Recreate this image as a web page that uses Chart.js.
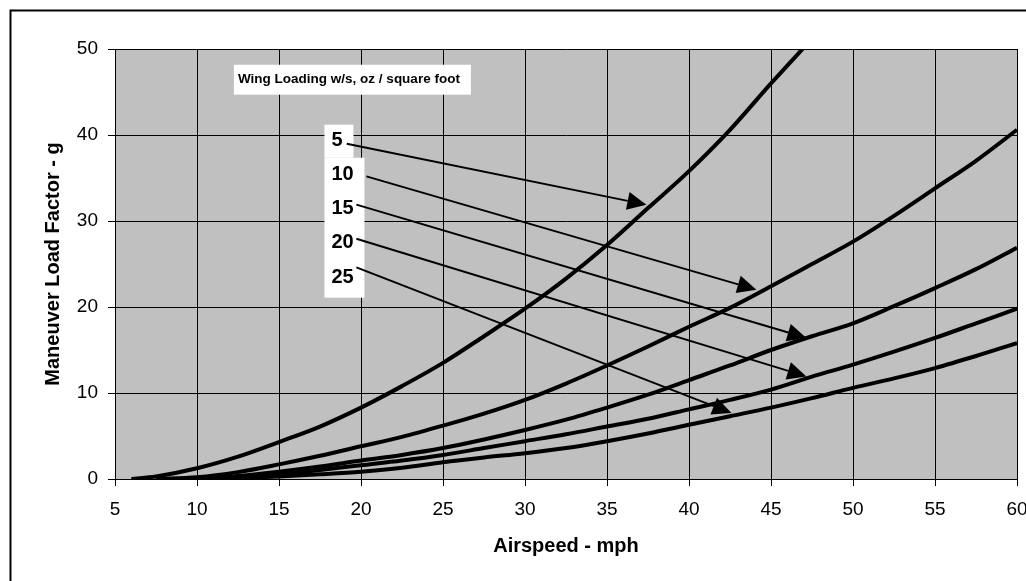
<!DOCTYPE html>
<html>
<head>
<meta charset="utf-8">
<title>Maneuver Load Factor</title>
<script src="https://cdn.jsdelivr.net/npm/chart.js@4.4.1/dist/chart.umd.min.js"></script>
<style>
  html, body { margin: 0; padding: 0; background: #fff; }
</style>
</head>
<body>
<canvas id="myCanvas" width="1026" height="581"></canvas>
<script>
// Airspeed (mph) sample points shared by every curve
var airspeed = [6, 7.5, 10, 12.5, 15, 17.5, 20, 22.5, 25, 27.5, 30, 32.5, 35, 37.5, 40, 42.5, 45, 47.5, 50, 52.5, 55, 57.5, 60];

// Maneuver load factor (g) for each wing loading
var ws5  = [0, 0.3, 1.25, 2.6, 4.3, 6.1, 8.3, 10.8, 13.5, 16.6, 19.8, 23.3, 27.2, 31.5, 35.8, 40.6, 46.0, 51.2, null, null, null, null, null];
var ws10 = [null, 0, 0.2, 0.8, 1.7, 2.7, 3.8, 4.9, 6.2, 7.6, 9.2, 11.1, 13.2, 15.4, 17.7, 19.9, 22.4, 25.0, 27.6, 30.6, 33.8, 37.0, 40.6];
var ws15 = [null, null, 0, 0.35, 0.85, 1.45, 2.15, 2.8, 3.6, 4.6, 5.7, 6.9, 8.3, 9.8, 11.5, 13.2, 15.0, 16.6, 18.1, 20.1, 22.2, 24.4, 26.9];
var ws20 = [null, null, 0, 0.2, 0.55, 1.05, 1.6, 2.15, 2.8, 3.6, 4.4, 5.2, 6.1, 7.0, 8.1, 9.2, 10.4, 11.9, 13.3, 14.8, 16.4, 18.1, 19.8];
var ws25 = [null, null, 0, 0.1, 0.3, 0.55, 0.85, 1.3, 1.95, 2.5, 3.0, 3.6, 4.4, 5.3, 6.3, 7.3, 8.3, 9.4, 10.6, 11.7, 12.9, 14.3, 15.8];

var wingLoadings = ['5', '10', '15', '20', '25'];
var xTicks = [5, 10, 15, 20, 25, 30, 35, 40, 45, 50, 55, 60];
var yTicks = [0, 10, 20, 30, 40, 50];

// callout arrows, in axis units (from label to curve)
var arrowFrom = [[19.13, 38.99], [20.33, 35.19], [19.72, 31.90], [19.72, 27.94], [19.72, 24.60]];
var arrowTo   = [[37.40, 31.90], [44.11, 22.01], [47.16, 16.40], [47.16, 11.93], [42.59, 7.67]];
var labelPos  = [[18.2, 39.51], [18.2, 35.5], [18.2, 31.55], [18.2, 27.59], [18.2, 23.52]];

Chart.defaults.font.family = '"Liberation Sans", Arial, sans-serif';
Chart.defaults.color = '#000';

function toPoints(ys) {
	var pts = [];
	for (var i = 0; i < airspeed.length; i++) {
		pts.push({x: airspeed[i], y: ys[i]});
	}
	return pts;
}

function line(label, ys) {
	return {
		label: label,
		data: toPoints(ys),
		borderColor: '#000',
		borderWidth: 4,
		pointRadius: 0,
		cubicInterpolationMode: 'monotone',
		fill: false,
		clip: 0
	};
}

function box(ctx, chart, x0, y0, x1, y1) {
	var sx = chart.scales.x, sy = chart.scales.y;
	var l = sx.getPixelForValue(x0), r = sx.getPixelForValue(x1);
	var t = sy.getPixelForValue(y0), b = sy.getPixelForValue(y1);
	ctx.fillRect(l, t, r - l, b - t);
}

function arrow(ctx, x0, y0, x1, y1) {
	var ang = Math.atan2(y1 - y0, x1 - x0), len = 19, hw = 9;
	var bx = x1 - len * Math.cos(ang), by = y1 - len * Math.sin(ang);
	ctx.beginPath();
	ctx.moveTo(x0, y0);
	ctx.lineTo(bx, by);
	ctx.stroke();
	ctx.beginPath();
	ctx.moveTo(x1, y1);
	ctx.lineTo(bx + hw * Math.sin(ang), by - hw * Math.cos(ang));
	ctx.lineTo(bx - hw * Math.sin(ang), by + hw * Math.cos(ang));
	ctx.closePath();
	ctx.fill();
}

// grey plot area + outer frame
var background = {
	id: 'background',
	beforeDraw: function(chart) {
		var ctx = chart.ctx, a = chart.chartArea;
		ctx.save();
		ctx.fillStyle = '#fff';
		ctx.fillRect(0, 0, chart.width, chart.height);
		ctx.fillStyle = '#c0c0c0';
		ctx.fillRect(a.left, a.top, a.right - a.left, a.bottom - a.top);
		ctx.strokeStyle = '#000';
		ctx.lineWidth = 2;
		ctx.strokeRect(10.5, 10.5, chart.width + 40, chart.height + 40);
		ctx.restore();
	}
};

// legend title, number labels and arrows
var callouts = {
	id: 'callouts',
	afterDatasetsDraw: function(chart) {
		var ctx = chart.ctx, sx = chart.scales.x, sy = chart.scales.y;
		ctx.save();
		ctx.fillStyle = '#fff';
		box(ctx, chart, 12.25, 48.17, 26.7, 44.69);
		box(ctx, chart, 17.77, 41.2, 19.54, 37.36);
		box(ctx, chart, 17.77, 37.36, 20.21, 21.08);

		ctx.fillStyle = '#000';
		ctx.textBaseline = 'middle';
		ctx.textAlign = 'left';
		ctx.font = 'bold 13.5px "Liberation Sans", Arial, sans-serif';
		ctx.fillText('Wing Loading w/s, oz / square foot', sx.getPixelForValue(12.5), sy.getPixelForValue(46.5));

		ctx.font = 'bold 20px "Liberation Sans", Arial, sans-serif';
		for (var i = 0; i < wingLoadings.length; i++) {
			ctx.fillText(wingLoadings[i], sx.getPixelForValue(labelPos[i][0]), sy.getPixelForValue(labelPos[i][1]) + 1);
		}

		ctx.strokeStyle = '#000';
		ctx.lineWidth = 2;
		for (var j = 0; j < arrowFrom.length; j++) {
			arrow(ctx,
				sx.getPixelForValue(arrowFrom[j][0]), sy.getPixelForValue(arrowFrom[j][1]),
				sx.getPixelForValue(arrowTo[j][0]), sy.getPixelForValue(arrowTo[j][1]));
		}
		ctx.restore();
	}
};

var ctx = document.getElementById('myCanvas').getContext('2d');
var myChart = new Chart(ctx, {
	type: 'line',
	data: {
		datasets: [
			line('5', ws5),
			line('10', ws10),
			line('15', ws15),
			line('20', ws20),
			line('25', ws25)
		]
	},
	options: {
		responsive: false,
		animation: false,
		devicePixelRatio: 1,
		layout: { padding: { top: 49, right: 9, left: 0, bottom: 0 } },
		plugins: {
			legend: { display: false },
			tooltip: { enabled: false }
		},
		scales: {
			x: {
				type: 'linear',
				min: 5,
				max: 60,
				afterBuildTicks: function(s) { s.ticks = xTicks.map(function(v) { return {value: v}; }); },
				ticks: { color: '#000', font: { size: 19 }, padding: 12, maxRotation: 0, autoSkip: false },
				grid: { color: '#000', lineWidth: 1, tickLength: 7 },
				border: { color: '#000', width: 1 },
				title: { display: true, text: 'Airspeed - mph', color: '#000', font: { size: 20, weight: 'bold' }, padding: { top: 0, bottom: 23 } },
				afterFit: function(s) { s.height = 102; s.paddingLeft = 0; s.paddingRight = 0; }
			},
			y: {
				min: 0,
				max: 50,
				afterBuildTicks: function(s) { s.ticks = yTicks.map(function(v) { return {value: v}; }); },
				ticks: { color: '#000', font: { size: 19 }, padding: 10 },
				grid: { color: '#000', lineWidth: 1, tickLength: 7 },
				border: { color: '#000', width: 1 },
				title: { display: true, text: 'Maneuver Load Factor - g', color: '#000', font: { size: 20, weight: 'bold' }, padding: { top: 41, bottom: 0 } },
				afterFit: function(s) { s.width = 115; s.paddingTop = 0; s.paddingBottom = 0; }
			}
		}
	},
	plugins: [background, callouts]
});
</script>
</body>
</html>
